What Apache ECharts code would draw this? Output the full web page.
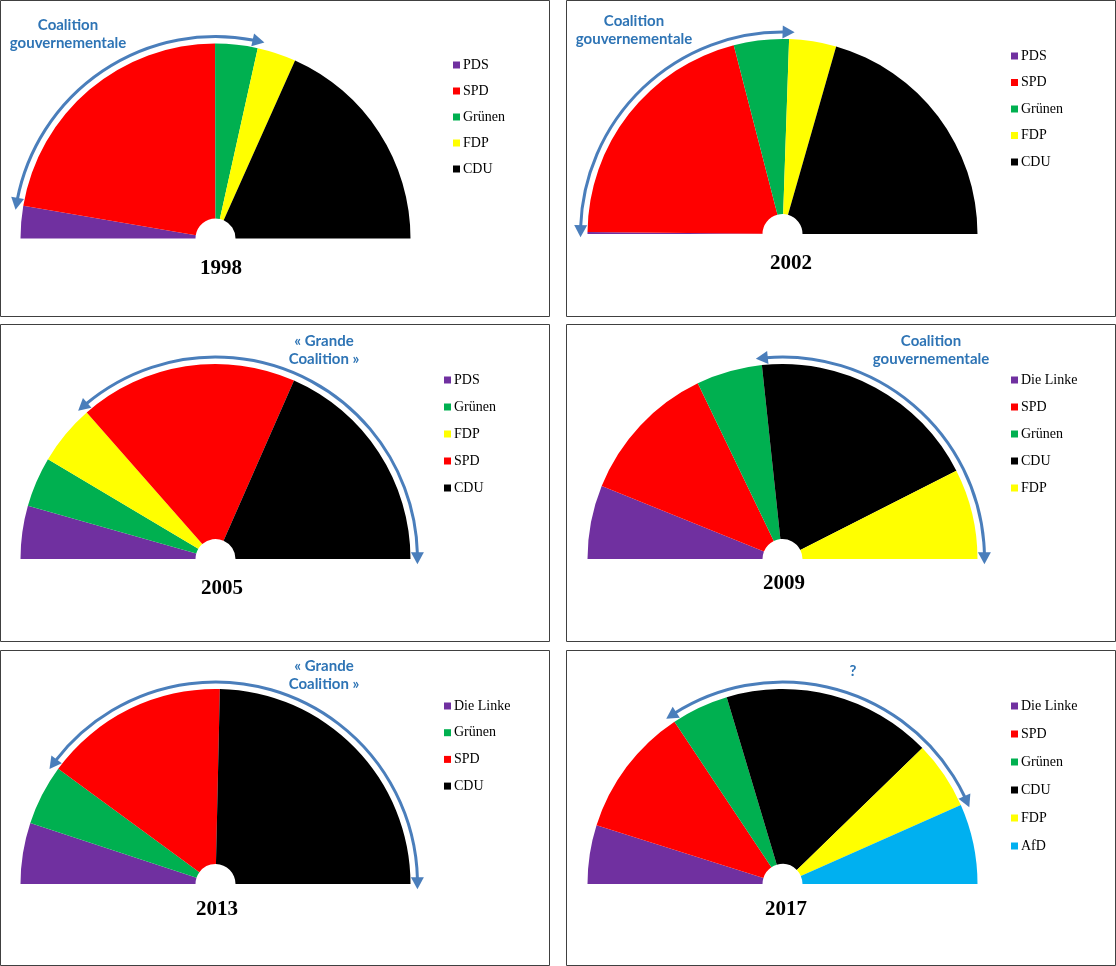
<!DOCTYPE html>
<html><head><meta charset="utf-8">
<script src="https://cdn.jsdelivr.net/npm/echarts@6/dist/echarts.min.js"></script>
<style>html,body{margin:0;padding:0;background:#fff}#c{width:1116px;height:966px}</style>
</head><body><div id="c"></div>
<script>
// ---- data ----
const years = ['1998', '2002', '2005', '2009', '2013', '2017'];
const parties1998 = ['PDS', 'SPD', 'Grünen', 'FDP', 'CDU'];
const seats1998 = [36, 298, 47, 43, 245];
const parties2002 = ['PDS', 'SPD', 'Grünen', 'FDP', 'CDU'];
const seats2002 = [2, 251, 55, 47, 248];
const parties2005 = ['PDS', 'Grünen', 'FDP', 'SPD', 'CDU'];
const seats2005 = [54, 51, 61, 222, 226];
const parties2009 = ['Die Linke', 'SPD', 'Grünen', 'CDU', 'FDP'];
const seats2009 = [76, 146, 68, 239, 93];
const parties2013 = ['Die Linke', 'Grünen', 'SPD', 'CDU'];
const seats2013 = [64, 63, 193, 311];
const parties2017 = ['Die Linke', 'SPD', 'Grünen', 'CDU', 'FDP', 'AfD'];
const seats2017 = [69, 153, 67, 246, 80, 94];
// legend order per panel
const legend1998 = ['PDS', 'SPD', 'Grünen', 'FDP', 'CDU'];
const legend2002 = ['PDS', 'SPD', 'Grünen', 'FDP', 'CDU'];
const legend2005 = ['PDS', 'Grünen', 'FDP', 'SPD', 'CDU'];
const legend2009 = ['Die Linke', 'SPD', 'Grünen', 'CDU', 'FDP'];
const legend2013 = ['Die Linke', 'Grünen', 'SPD', 'CDU'];
const legend2017 = ['Die Linke', 'SPD', 'Grünen', 'CDU', 'FDP', 'AfD'];
// coalitions spanned by the arrows
const coalition1998 = ['SPD', 'Grünen'];
const coalition2002 = ['SPD', 'Grünen'];
const coalition2005 = ['SPD', 'CDU'];
const coalition2009 = ['CDU', 'FDP'];
const coalition2013 = ['SPD', 'CDU'];
const coalition2017 = ['Grünen', 'CDU', 'FDP'];
const notes1998 = ['Coalition', 'gouvernementale'];
const notes2002 = ['Coalition', 'gouvernementale'];
const notes2005 = ['« Grande', 'Coalition »'];
const notes2009 = ['Coalition', 'gouvernementale'];
const notes2013 = ['« Grande', 'Coalition »'];
const notes2017 = ['?'];

// ---- style / layout ----
const partyColor = {
  'PDS': '#7030A0', 'Die Linke': '#7030A0', 'SPD': '#FF0000', 'Grünen': '#00B050',
  'FDP': '#FFFF00', 'CDU': '#000000', 'AfD': '#00B0F0'
};
const panels = [
  {parties: parties1998, seats: seats1998, legend: legend1998, coal: coalition1998, notes: notes1998,
   box: [0.5, 0.5, 549, 316], c: [215.5, 238.5], lg: [453, 58, 12], yr: [221, 269], nt: [68, 25]},
  {parties: parties2002, seats: seats2002, legend: legend2002, coal: coalition2002, notes: notes2002,
   box: [566.5, 0.5, 549, 316], c: [782.5, 234], lg: [1011, 49, 12.5], yr: [791, 264], nt: [634, 21]},
  {parties: parties2005, seats: seats2005, legend: legend2005, coal: coalition2005, notes: notes2005,
   box: [0.5, 324.5, 549, 317], c: [215.5, 559], lg: [444, 373, 13], yr: [222, 589], nt: [324, 341]},
  {parties: parties2009, seats: seats2009, legend: legend2009, coal: coalition2009, notes: notes2009,
   box: [566.5, 324.5, 549, 317], c: [782.5, 559], lg: [1011, 373, 13], yr: [784, 584], nt: [931, 341]},
  {parties: parties2013, seats: seats2013, legend: legend2013, coal: coalition2013, notes: notes2013,
   box: [0.5, 650.5, 549, 315], c: [215.5, 884], lg: [444, 699, 12.7], yr: [217, 910], nt: [324, 666]},
  {parties: parties2017, seats: seats2017, legend: legend2017, coal: coalition2017, notes: notes2017,
   box: [566.5, 650.5, 549, 315], c: [782.5, 884], lg: [1011, 699, 14], yr: [786, 910], nt: [853, 671]}
];
const R_IN = 20, R_OUT = 195, R_ARROW = 202;
const ARROW = '#4A7EBB', NOTE = '#2E74B5';

const series = [], legends = [], graphics = [];

function pt(c, r, theta) { // theta in degrees, 0 = left, 90 = top, 180 = right
  const a = Math.PI + theta * Math.PI / 180;
  return [c[0] + r * Math.cos(a), c[1] + r * Math.sin(a)];
}
function arrowHead(c, r, tipDeg, dir) { // dir: -1 head points toward smaller angle
  const L = 12, W = 6.5;
  const tip = pt(c, r, tipDeg);
  const baseDeg = tipDeg - dir * (L / r) * 180 / Math.PI;
  const b = pt(c, r, baseDeg);
  let tx = tip[0] - b[0], ty = tip[1] - b[1];
  const len = Math.hypot(tx, ty); tx /= len; ty /= len;
  const nx = -ty, ny = tx;
  return {type: 'polygon', silent: true, z: 10,
    shape: {points: [tip, [b[0] + nx * W, b[1] + ny * W], [b[0] - nx * W, b[1] - ny * W]]},
    style: {fill: ARROW}};
}

panels.forEach((p, i) => {
  const total = p.seats.reduce((a, b) => a + b, 0);
  const data = p.parties.map((n, k) => ({name: n, value: p.seats[k], itemStyle: {color: partyColor[n]}}));
  data.push({name: '__rest', value: total, itemStyle: {color: 'rgba(0,0,0,0)'}});
  series.push({
    type: 'pie', center: p.c, radius: [R_IN, R_OUT], startAngle: 180, clockwise: true,
    minAngle: 0, avoidLabelOverlap: false, silent: true, label: {show: false}, labelLine: {show: false},
    emphasis: {disabled: true}, itemStyle: {borderWidth: 0}, data: data
  });
  legends.push({
    orient: 'vertical', left: p.lg[0], top: p.lg[1], itemGap: p.lg[2], icon: 'rect',
    itemWidth: 7, itemHeight: 7, selectedMode: false, padding: 0,
    textStyle: {fontFamily: 'Liberation Serif', fontSize: 14, lineHeight: 14, color: '#000', padding: [0, 0, 0, -2]},
    data: p.legend
  });
  // panel frame
  graphics.push({type: 'rect', silent: true, z: 1,
    shape: {x: p.box[0], y: p.box[1], width: p.box[2], height: p.box[3]},
    style: {fill: null, stroke: '#404040', lineWidth: 1}});
  // year
  graphics.push({type: 'text', silent: true, x: p.yr[0], y: p.yr[1],
    style: {text: years[i], font: 'bold 21px "Liberation Serif"', fill: '#000', align: 'center', verticalAlign: 'middle'}});
  // notes
  p.notes.forEach((t, k) => {
    graphics.push({type: 'text', silent: true, x: p.nt[0], y: p.nt[1] + k * 18.5,
      style: {text: t, font: 'bold 15px Lato', fill: NOTE, align: 'center', verticalAlign: 'middle'}});
  });
  // arrow spanning the coalition
  let cum = 0, a0 = null, a1 = null;
  p.parties.forEach((n, k) => {
    const s = cum / total * 180; cum += p.seats[k]; const e = cum / total * 180;
    if (p.coal.includes(n)) { if (a0 === null) a0 = s; a1 = e; }
  });
  const d = 10 / R_ARROW * 180 / Math.PI;
  const t0 = a0 - 1.5, t1 = a1 + 1.5;
  graphics.push({type: 'arc', silent: true, z: 10,
    shape: {cx: p.c[0], cy: p.c[1], r: R_ARROW,
      startAngle: Math.PI + (t0 + d) * Math.PI / 180, endAngle: Math.PI + (t1 - d) * Math.PI / 180, clockwise: true},
    style: {stroke: ARROW, lineWidth: 3, fill: null}});
  graphics.push(arrowHead(p.c, R_ARROW, t0, -1));
  graphics.push(arrowHead(p.c, R_ARROW, t1, 1));
});

const chart = echarts.init(document.getElementById('c'), null, {renderer: 'canvas'});
chart.setOption({animation: false, backgroundColor: '#fff', legend: legends, series: series, graphic: graphics});
</script></body></html>
